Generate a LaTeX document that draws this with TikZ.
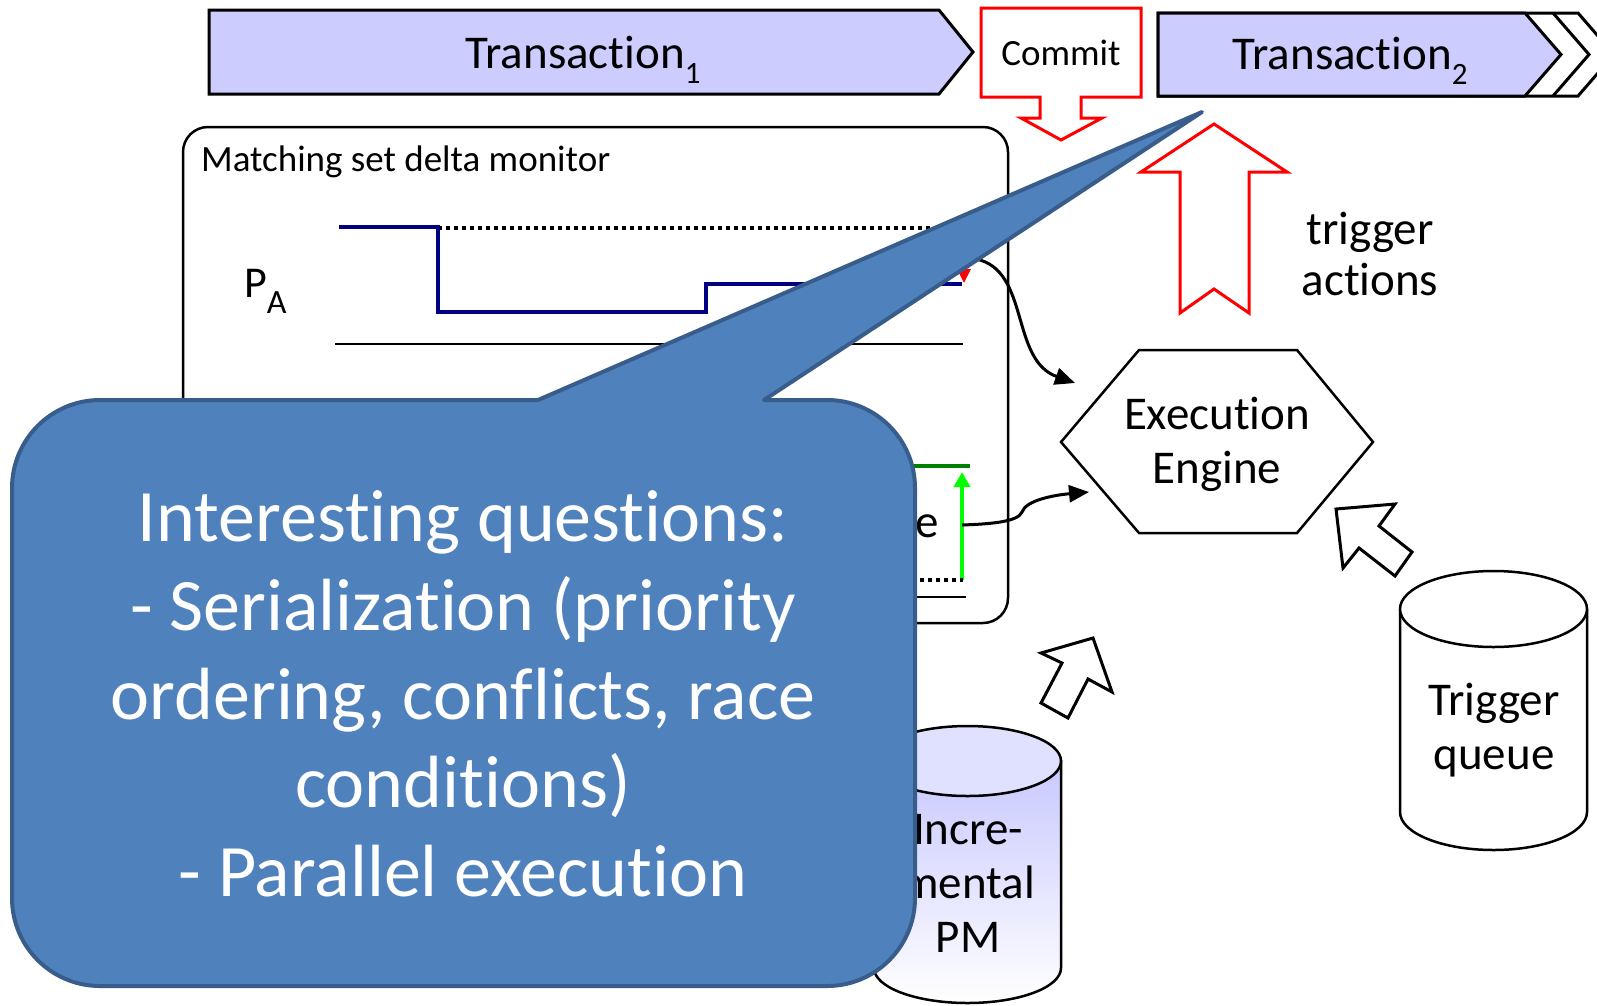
\documentclass[tikz,border=0pt]{standalone}
\usepackage{fontspec}
\setmainfont{Carlito}[Ligatures=NoCommon]
\usetikzlibrary{arrows.meta}
\definecolor{lavender}{HTML}{CCCCFF}
\definecolor{calloutfill}{HTML}{4F81BD}
\definecolor{calloutline}{HTML}{385D8A}
\definecolor{stepnavy}{HTML}{000080}
\definecolor{darkgreen}{HTML}{008000}
\definecolor{brightgreen}{HTML}{00FF00}
\definecolor{pmtop}{HTML}{C8C8FF}
\definecolor{pmlid}{HTML}{E0E0FF}
\newcommand{\txtsize}[2]{\fontsize{#1}{#2}\selectfont}

\begin{document}
\begin{tikzpicture}[x=1pt,y=-1pt,
  phase/.style={draw=black,line width=3pt,fill=lavender,line join=miter},
  redout/.style={draw=red,line width=3pt,fill=white,line join=miter},
  blockarrow/.style={draw=black,line width=3pt,fill=white,line join=miter},
  lbl/.style={inner sep=0pt,align=center,font=\txtsize{47}{54}},
  smalllbl/.style={inner sep=0pt,font=\txtsize{37}{44}},
  conn/.style={draw=black,line width=3pt,-{Triangle[length=20pt,width=17pt]}},
  dotline/.style={draw=black,line width=3.5pt,dash pattern=on 4pt off 4pt},
]
\path[use as bounding box, fill=white] (0,0) rectangle (1597,1005);
\clip (0,0) rectangle (1597,1005);

% ---- transaction phases along the top ----
\path[phase] (209,10) -- (939,10) -- (973,52) -- (939,94) -- (209,94) -- cycle;
\node[lbl, anchor=base] (t1) at (583,68) {Transaction\raisebox{-15pt}{\txtsize{31}{31}1}};

\path[draw=black,line width=3pt,fill=white] (1158,13) -- (1578,13) -- (1614,54.5) -- (1578,96) -- (1158,96) -- cycle;
\path[phase] (1158,13) -- (1525,13) -- (1561,54.5) -- (1525,96) -- (1158,96) -- cycle;
\draw[line width=3pt] (1553,13) -- (1589,54.5) -- (1553,96);
\node[lbl, anchor=base] (t2) at (1350,69) {Transaction\raisebox{-15pt}{\txtsize{31}{31}2}};

% ---- commit callout ----
\path[redout] (981,8) -- (1141,8) -- (1141,97) -- (1081,97) -- (1081,118) -- (1102,118) -- (1061,140)
  -- (1021,118) -- (1040,118) -- (1040,97) -- (981,97) -- cycle;
\node[smalllbl, anchor=base] (commit) at (1061,65) {Commit};

% ---- trigger actions arrow ----
\path[redout] (1214,124) -- (1287,172) -- (1249,172) -- (1249,313) -- (1214,289) -- (1180,313)
  -- (1180,172) -- (1141,172) -- cycle;
\node[lbl, font=\txtsize{47}{51}] (trig) at (1370,254) {trigger\\actions};

% ---- matching set delta monitor ----
\draw[line width=2.5pt, rounded corners=25pt] (183,127) rectangle (1008,623);
\node[smalllbl, anchor=base west] (mtitle) at (201,171) {Matching set delta monitor};
\node[inner sep=0pt, anchor=base west, font=\txtsize{44}{50}] (pa) at (244,297)
  {P\raisebox{-16pt}{\txtsize{34}{34}A}};
\draw[dotline] (438,228) -- (962,228);
\draw[stepnavy, line width=4pt, line join=miter] (339,227) -- (438,227) -- (438,312) -- (706,312)
  -- (706,284) -- (962,284);
\draw[red, line width=3pt, -{Triangle[length=14pt,width=13pt]}] (964,228) -- (964,283);
\draw[line width=2.5pt] (335,344) -- (963,344);

\draw[darkgreen, line width=4pt] (880,466) -- (970,466);
\draw[brightgreen, line width=4pt, -{Triangle[length=15pt,width=16pt]}] (962,580) -- (962,472);
\draw[dotline] (880,580) -- (963,580);
\draw[line width=2.5pt] (880,597) -- (966,597);
\node[lbl, anchor=base west] (pe) at (915,537) {e};

\coordinate (mon-out) at (976,259);
\coordinate (mon-e) at (962,525);

% ---- execution engine ----
\draw[line width=2.5pt, line join=miter] (1061,442) -- (1139,350) -- (1297,350) -- (1373,442)
  -- (1297,533) -- (1139,533) -- cycle;
\node[lbl] (ee) at (1217,444) {Execution\\Engine};
\coordinate (ee-a) at (1075,383);
\coordinate (ee-b) at (1089,492);

\draw[conn] (mon-out) .. controls (1030,270) and (1010,360) .. (ee-a);
\draw[conn] (mon-e) .. controls (990,524) and (1018,522) .. (1022,512)
  .. controls (1026,500) and (1055,495) .. (ee-b);

% ---- block arrows into the engine ----
\path[blockarrow] (1336,509) -- (1395,504) -- (1379,526) -- (1412,552) -- (1395,576)
  -- (1359,548) -- (1343,568) -- cycle;
\path[blockarrow] (1093,638) -- (1112,692) -- (1088,679) -- (1068,718) -- (1041,703)
  -- (1062,663) -- (1041,653) -- cycle;

% ---- trigger queue ----
\path[draw=black, line width=2.5pt, fill=white] (1400,609) -- (1400,812)
  arc[start angle=180, end angle=0, x radius=93.5, y radius=38] -- (1587,609);
\draw[line width=2.5pt, fill=white] (1493.5,609) ellipse[x radius=93.5, y radius=38];
\node[lbl] (tq) at (1494,730) {Trigger\\queue};

% ---- incremental pattern matcher ----
\path[draw=black, line width=2.5pt, top color=pmtop, bottom color=white] (874,761) -- (874,968)
  arc[start angle=180, end angle=0, x radius=93.5, y radius=35] -- (1061,761) -- cycle;
\draw[line width=2.5pt, fill=pmlid] (967.5,761) ellipse[x radius=93.5, y radius=35];
\node[lbl] (pm) at (968,883) {Incre-\\mental\\PM};

% ---- speech bubble ----
\path[fill=calloutfill, draw=calloutline, line width=4pt, line join=round]
  (538,400) -- (1202,112) -- (764,400) -- (827,400)
  arc[start angle=270, end angle=360, radius=88] -- (915,898)
  arc[start angle=0, end angle=90, radius=88] -- (100,986)
  arc[start angle=90, end angle=180, radius=88] -- (12,488)
  arc[start angle=180, end angle=270, radius=88] -- cycle;
\node[inner sep=0pt, align=center, text=white, font=\txtsize{74}{88.7}] (q) at (463,694)
  {Interesting questions:\\- Serialization (priority\\ordering, conflicts, race\\conditions)\\- Parallel execution};
\end{tikzpicture}
\end{document}
